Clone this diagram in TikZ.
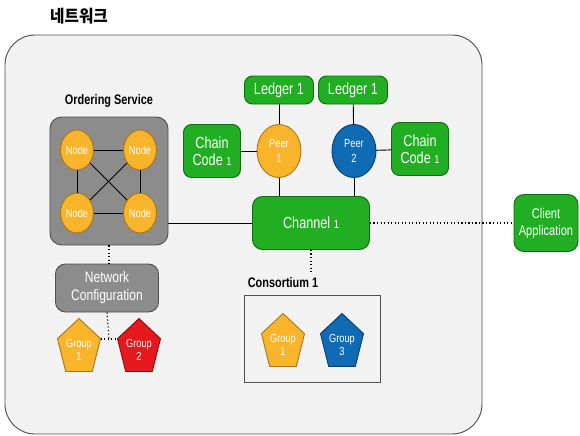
\documentclass[tikz,border=0pt]{standalone}
\usepackage{fontspec}
\setmainfont{Liberation Sans}[FakeStretch=0.79]
\newfontfamily\korfont{Noto Sans CJK KR}[FakeStretch=0.92]
\usetikzlibrary{shapes.geometric,positioning}

\definecolor{netbg}{HTML}{F2F2F2}
\definecolor{hlgreen}{HTML}{21AE22}
\definecolor{hlgreenD}{HTML}{0E6E10}
\definecolor{hlyellow}{HTML}{F8B52B}
\definecolor{hlyellowD}{HTML}{A9761A}
\definecolor{hlblue}{HTML}{0F6BB4}
\definecolor{hlblueD}{HTML}{093F6C}
\definecolor{hlred}{HTML}{E4181D}
\definecolor{hlredD}{HTML}{8E0D10}
\definecolor{hlgray}{HTML}{8C8C8C}
\definecolor{hlgrayD}{HTML}{505050}

\begin{document}
\begin{tikzpicture}[x=0.03cm, y=-0.03cm,
    gbox/.style={rectangle, draw=hlgreenD, fill=hlgreen, text=white, rounded corners=0.24cm, align=center, inner sep=0pt, line width=0.8pt},
    ordnode/.style={ellipse, draw=hlyellowD, fill=hlyellow, text=white, minimum width=0.99cm, minimum height=1.2cm, inner sep=0pt, font=\fontsize{10}{12}\selectfont, line width=0.8pt},
    peer/.style={ellipse, draw=#1D, fill=#1, text=white, minimum width=1.32cm, minimum height=1.59cm, inner sep=0pt, align=center, font=\fontsize{10}{13}\selectfont, line width=0.8pt},
    grptxt/.style={minimum width=1.29cm, minimum height=1.59cm, inner sep=0pt, align=center, text=white, font=\fontsize{10}{11}\selectfont},
    pents/.style={draw=#1D, fill=#1, line width=0.8pt},
    pics/pent/.style={code={\filldraw[pents=#1] (0,-26.5) -- (21.5,-6.3) -- (13.3,26.5) -- (-13.3,26.5) -- (-21.5,-6.3) -- cycle;}},
    lbl/.style={font=\bfseries\fontsize{11.8}{13}\selectfont},
    link/.style={line width=0.8pt},
    dots/.style={line width=1pt, dotted}
]
\useasboundingbox (0,0) rectangle (580,435);

% Network
\node[rectangle, draw=hlgrayD, fill=netbg, rounded corners=0.9cm, minimum width=14.31cm, minimum height=11.97cm, line width=0.8pt] (net) at (243.5,234.5) {};
\node[font=\korfont\bfseries\fontsize{14.5}{16}\selectfont] (title) at (79,16) {네트워크};

% Ordering service
\node[rectangle, draw=hlgrayD, fill=hlgray, rounded corners=0.35cm, minimum width=3.54cm, minimum height=3.84cm, line width=0.8pt] (ord) at (109,181) {};
\node[lbl, above=0.16cm of ord] (ordlbl) {Ordering Service};
\node[ordnode] (n1) at (77,150) {Node};
\node[ordnode] (n2) at (140,150) {Node};
\node[ordnode] (n3) at (77,213) {Node};
\node[ordnode] (n4) at (140,213) {Node};
\draw[link] (n1) -- (n2);
\draw[link] (n3) -- (n4);
\draw[link] (n1) -- (n3);
\draw[link] (n2) -- (n4);
\draw[link] (n1) -- (n4);
\draw[link] (n2) -- (n3);

% Network configuration and groups
\node[rectangle, draw=hlgrayD, fill=hlgray, text=white, rounded corners=0.3cm, minimum width=3.09cm, minimum height=1.44cm, align=center, font=\fontsize{13}{15.4}\selectfont, line width=0.8pt] (cfg) at (107,288) {Network\\Configuration};
\pic at (79,345) {pent=hlyellow};
\pic at (139,345) {pent=hlred};
\node[grptxt] (g1) at (79,350) {Group\\1};
\node[grptxt] (g2) at (139,350) {Group\\2};
\coordinate (cfgj) at (109,339);
\draw[dots] (ord.south) -- (ord.south |- cfg.north);
\draw[dots] (cfg.south) -- (cfgj);
\draw[dots] (cfgj -| g1.east) -- (cfgj -| g2.west);

% Peers, ledgers and chain code
\node[gbox, minimum width=2.07cm, minimum height=0.84cm, font=\fontsize{13.7}{15}\selectfont] (la) at (279,90) {Ledger 1};
\node[gbox, minimum width=2.07cm, minimum height=0.84cm, font=\fontsize{13.7}{15}\selectfont] (lb) at (353,90) {Ledger 1};
\node[peer=hlyellow] (p1) at (279,151) {Peer\\1};
\node[peer=hlblue] (p2) at (354,151) {Peer\\2};
\node[gbox, minimum width=1.71cm, minimum height=1.59cm, font=\fontsize{13.7}{14.5}\selectfont] (cc1) at (212,151) {Chain\\Code {\fontsize{10}{12}\selectfont 1}};
\node[gbox, minimum width=1.71cm, minimum height=1.59cm, font=\fontsize{13.7}{14.5}\selectfont] (cc2) at (420,149) {Chain\\Code {\fontsize{10}{12}\selectfont 1}};

% Channel and client
\node[gbox, rounded corners=0.3cm, minimum width=3.51cm, minimum height=1.59cm, font=\fontsize{13.7}{15}\selectfont] (ch) at (311,223) {Channel {\fontsize{10}{12}\selectfont 1}};
\node[gbox, rounded corners=0.3cm, minimum width=1.92cm, minimum height=1.71cm, font=\fontsize{12}{14.5}\selectfont] (cl) at (546,223) {Client\\Application};

\draw[link] (la) -- (p1);
\draw[link] (lb) -- (p2);
\draw[link] (p1) -- (cc1);
\draw[link] (p2) -- (cc2);
\draw[link] (p1.south) -- (p1.south |- ch.north);
\draw[link] (p2.south) -- (p2.south |- ch.north);
\draw[link] (ch.west) -- (ch.west -| ord.east);
\draw[dots] (ch.east) -- (cl.west);

% Consortium
\node[rectangle, draw=hlgrayD, fill=netbg, minimum width=4.08cm, minimum height=2.61cm, line width=0.8pt] (cons) at (312,338.5) {};
\node[lbl] (conslbl) at (283,283) {Consortium 1};
\pic at (283,340) {pent=hlyellow};
\pic at (342,340) {pent=hlblue};
\node[grptxt] (g1c) at (283,345) {Group\\1};
\node[grptxt] (g3) at (342,345) {Group\\3};
\draw[dots] (ch.south) -- (ch.south |- conslbl.north);

\end{tikzpicture}
\end{document}
